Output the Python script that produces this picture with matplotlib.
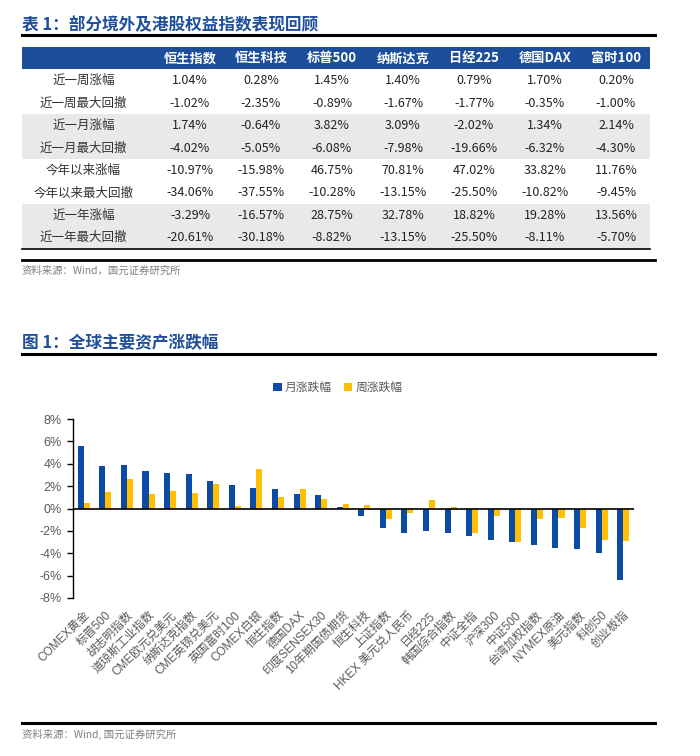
import numpy as np
import matplotlib
matplotlib.use('Agg')
import matplotlib.pyplot as plt
from matplotlib.patches import Rectangle
from matplotlib.lines import Line2D
from matplotlib.ticker import FuncFormatter

plt.rcParams['font.family'] = ['Liberation Sans', 'Noto Sans CJK SC', 'DejaVu Sans']

# ---------------- table data ----------------
table_title = "表 1：部分境外及港股权益指数表现回顾"
table_cols = ["恒生指数", "恒生科技", "标普500", "纳斯达克", "日经225", "德国DAX", "富时100"]
row_labels = ["近一周涨幅", "近一周最大回撤", "近一月涨幅", "近一月最大回撤",
              "今年以来涨幅", "今年以来最大回撤", "近一年涨幅", "近一年最大回撤"]
week_ret = [1.04, 0.28, 1.45, 1.40, 0.79, 1.70, 0.20]
week_dd = [-1.02, -2.35, -0.89, -1.67, -1.77, -0.35, -1.00]
month_ret = [1.74, -0.64, 3.82, 3.09, -2.02, 1.34, 2.14]
month_dd = [-4.02, -5.05, -6.08, -7.98, -19.66, -6.32, -4.30]
ytd_ret = [-10.97, -15.98, 46.75, 70.81, 47.02, 33.82, 11.76]
ytd_dd = [-34.06, -37.55, -10.28, -13.15, -25.50, -10.82, -9.45]
year_ret = [-3.29, -16.57, 28.75, 32.78, 18.82, 19.28, 13.56]
year_dd = [-20.61, -30.18, -8.82, -13.15, -25.50, -8.11, -5.70]
source_text = "资料来源：Wind，国元证券研究所"

# ---------------- chart data ----------------
chart_title = "图 1：全球主要资产涨跌幅"
categories = ["COMEX黄金", "标普500", "胡志明指数", "道琼斯工业指数", "CME欧元兑美元",
              "纳斯达克指数", "CME英镑兑美元", "英国富时100", "COMEX白银", "恒生指数",
              "德国DAX", "印度SENSEX30", "10年期国债期货", "恒生科技", "上证指数",
              "HKEX 美元兑人民币", "日经225", "韩国综合指数", "中证全指", "沪深300",
              "中证500", "台湾加权指数", "NYMEX原油", "美元指数", "科创50", "创业板指"]
month_chg = [5.55, 3.82, 3.85, 3.34, 3.16, 3.09, 2.44, 2.14, 1.85, 1.74,
             1.34, 1.23, 0.10, -0.64, -1.76, -2.15, -2.02, -2.20, -2.50, -2.78,
             -2.95, -3.22, -3.49, -3.58, -3.94, -6.38]
week_chg = [0.47, 1.45, 2.66, 1.31, 1.55, 1.40, 2.17, 0.20, 3.55, 1.04,
            1.70, 0.83, 0.38, 0.28, -0.95, -0.42, 0.79, 0.15, -2.15, -0.66,
            -2.95, -0.95, -0.87, -1.76, -2.83, -2.92]
series_names = ["月涨跌幅", "周涨跌幅"]
y_ticks = [-8, -6, -4, -2, 0, 2, 4, 6, 8]

# ---------------- styling ----------------
W, H = 700, 756
BLUE_T = '#1F4E9A'
HEAD = '#1C4E9C'
GREY_ROW = '#E9E9E9'
BAR_BLUE = '#0B4BA5'
BAR_YEL = '#FFC000'
GREY_TXT = '#595959'

fig = plt.figure(figsize=(7, 7.56), dpi=100)


def fx(x):
    return x / W


def fy(y):
    return 1 - y / H


def hline(y, x0, x1, lw):
    fig.add_artist(Line2D([fx(x0), fx(x1)], [fy(y), fy(y)], color='black', lw=lw))


# ---------------- table ----------------
fig.text(fx(22), fy(25), table_title, fontsize=12, fontweight='bold', color=BLUE_T,
         ha='left', va='center', family=['Noto Sans CJK SC'])
hline(35, 22, 655, 2.2)

tab = fig.add_axes([fx(22), fy(249), (650 - 22) / W, (249 - 47) / H])
x_left, x_right = -2.366, 6.479
tab.set_xlim(x_left, x_right)
tab.set_ylim(9, 0)
tab.axis('off')

tab.add_patch(Rectangle((x_left, 0), x_right - x_left, 1, color=HEAD, lw=0))
for j, c in enumerate(table_cols):
    tab.text(j, 0.5, c, color='white', fontsize=9.5, fontweight='bold',
             ha='center', va='center', family=['Noto Sans CJK SC'])

rows = [week_ret, week_dd, month_ret, month_dd, ytd_ret, ytd_dd, year_ret, year_dd]
for i, (lab, vals) in enumerate(zip(row_labels, rows)):
    y0 = i + 1
    if (i // 2) % 2 == 1:
        tab.add_patch(Rectangle((x_left, y0), x_right - x_left, 1, color=GREY_ROW, lw=0))
    tab.text(-1.5, y0 + 0.5, lab, fontsize=9, color='#333333', ha='center', va='center',
             family=['Noto Sans CJK SC'])
    for j, v in enumerate(vals):
        tab.text(j, y0 + 0.5, f"{v:.2f}%", fontsize=9, color='#222222',
                 ha='center', va='center', family=['Noto Sans CJK SC'])

hline(249, 22, 650, 1.2)
hline(260, 22, 655, 2.0)
fig.text(fx(22), fy(271), source_text, fontsize=7.5, color='#7F7F7F', ha='left', va='center',
         family=['Noto Sans CJK SC'])

# ---------------- chart ----------------
fig.text(fx(22), fy(343), chart_title, fontsize=12, fontweight='bold', color=BLUE_T,
         ha='left', va='center', family=['Noto Sans CJK SC'])
hline(354, 22, 655, 2.2)

ax = fig.add_axes([fx(73), fy(598), (634 - 73) / W, (598 - 419) / H])
x = np.arange(len(categories))
w = 0.28
b1 = ax.bar(x - w / 2, month_chg, width=w, color=BAR_BLUE, label=series_names[0])
b2 = ax.bar(x + w / 2, week_chg, width=w, color=BAR_YEL, label=series_names[1])
ax.axhline(0, color='black', lw=1.2)
ax.set_xlim(-0.5, len(categories) - 0.5)
ax.set_ylim(-8, 8)
ax.set_yticks(y_ticks)
ax.yaxis.set_major_formatter(FuncFormatter(lambda v, p: f"{v:.0f}%"))
for s in ['top', 'right', 'bottom']:
    ax.spines[s].set_visible(False)
ax.spines['left'].set_color('black')
ax.spines['left'].set_linewidth(1.0)
ax.tick_params(axis='y', direction='out', length=4, width=1, color='black',
               labelsize=9, labelcolor=GREY_TXT, pad=4)
ax.set_xticks(x)
ax.set_xticklabels(categories, rotation=45, ha='right', va='top',
                   rotation_mode='anchor', fontsize=8.5, color=GREY_TXT)
ax.tick_params(axis='x', length=0, pad=8)

fig.legend(handles=[b1, b2], labels=series_names, loc='center',
           bbox_to_anchor=(fx(338), fy(388)), ncol=2, frameon=False,
           fontsize=8.5, handlelength=0.7, handleheight=0.7, handletextpad=0.3,
           columnspacing=1.0, labelcolor=GREY_TXT)

hline(723, 22, 655, 2.2)
fig.text(fx(22), fy(734), source_text.replace("，", ", "), fontsize=7.5, color='#7F7F7F',
         ha='left', va='center', family=['Noto Sans CJK SC'])

fig.savefig('out.png', dpi=100, facecolor='white')
